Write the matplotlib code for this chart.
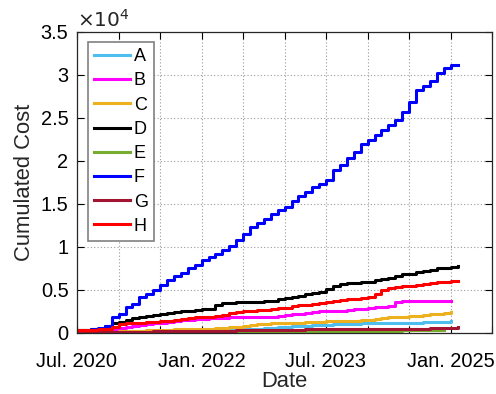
import matplotlib
matplotlib.use("Agg")
import matplotlib.pyplot as plt
from matplotlib.ticker import FuncFormatter, MultipleLocator
import pandas as pd

plt.rcParams["font.family"] = ["Liberation Sans", "DejaVu Sans"]

# Monthly cumulated cost per series (units of 1e4), first entry = Jul. 2020
series_names = ["A", "B", "C", "D", "E", "F", "G", "H"]

cost_A = [0.00, 0.00, 0.00, 0.00, 0.01, 0.01, 0.01, 0.01, 0.01, 0.01, 0.01, 0.01, 0.01,
          0.01, 0.01, 0.01, 0.02, 0.02, 0.02, 0.02, 0.02, 0.03, 0.03, 0.04, 0.04,
          0.05, 0.05, 0.06, 0.06, 0.07, 0.07, 0.08, 0.08, 0.08, 0.09, 0.09, 0.09,
          0.10, 0.10, 0.10, 0.10, 0.11, 0.11, 0.11, 0.11, 0.12, 0.12, 0.12, 0.12,
          0.12, 0.13, 0.13, 0.13, 0.13, 0.14]
cost_B = [0.02, 0.02, 0.02, 0.03, 0.04, 0.05, 0.06, 0.07, 0.08, 0.09, 0.10, 0.11, 0.12,
          0.13, 0.14, 0.15, 0.15, 0.16, 0.16, 0.17, 0.17, 0.17, 0.18, 0.18, 0.19,
          0.19, 0.19, 0.19, 0.19, 0.20, 0.21, 0.22, 0.22, 0.23, 0.24, 0.25, 0.25,
          0.26, 0.26, 0.27, 0.28, 0.28, 0.29, 0.30, 0.30, 0.31, 0.36, 0.37, 0.37,
          0.37, 0.37, 0.37, 0.37, 0.37, 0.37]
cost_C = [0.00, 0.00, 0.01, 0.01, 0.01, 0.01, 0.02, 0.02, 0.02, 0.02, 0.03, 0.03, 0.03,
          0.03, 0.04, 0.04, 0.04, 0.05, 0.05, 0.05, 0.06, 0.06, 0.07, 0.07, 0.08,
          0.09, 0.10, 0.10, 0.11, 0.11, 0.12, 0.12, 0.12, 0.13, 0.13, 0.13, 0.14,
          0.14, 0.14, 0.14, 0.14, 0.15, 0.15, 0.16, 0.17, 0.18, 0.18, 0.19, 0.20,
          0.20, 0.21, 0.22, 0.22, 0.23, 0.24]
cost_D = [0.03, 0.03, 0.04, 0.05, 0.08, 0.11, 0.13, 0.15, 0.17, 0.19, 0.20, 0.21, 0.22,
          0.23, 0.24, 0.26, 0.26, 0.27, 0.28, 0.28, 0.33, 0.35, 0.35, 0.36, 0.36,
          0.36, 0.36, 0.37, 0.37, 0.39, 0.41, 0.42, 0.43, 0.45, 0.46, 0.48, 0.51,
          0.55, 0.57, 0.58, 0.58, 0.59, 0.59, 0.62, 0.63, 0.64, 0.66, 0.68, 0.69,
          0.71, 0.72, 0.73, 0.75, 0.76, 0.77, 0.78]
cost_E = [0.00, 0.00, 0.00, 0.00, 0.00, 0.00, 0.00, 0.00, 0.00, 0.00, 0.00, 0.00, 0.00,
          0.00, 0.00, 0.00, 0.00, 0.00, 0.01, 0.01, 0.01, 0.01, 0.01, 0.01, 0.01,
          0.01, 0.01, 0.01, 0.01, 0.01, 0.01, 0.01, 0.01, 0.02, 0.02, 0.02, 0.02,
          0.02, 0.02, 0.02, 0.02, 0.02, 0.02, 0.02, 0.02, 0.02, 0.02, 0.03, 0.03,
          0.03, 0.03, 0.03, 0.03, 0.03]
cost_F = [0.03, 0.03, 0.04, 0.06, 0.08, 0.19, 0.22, 0.30, 0.34, 0.42, 0.45, 0.50, 0.56,
          0.62, 0.66, 0.70, 0.75, 0.79, 0.85, 0.88, 0.92, 0.96, 1.01, 1.08, 1.15,
          1.23, 1.28, 1.33, 1.38, 1.43, 1.47, 1.53, 1.59, 1.64, 1.70, 1.73, 1.78,
          1.90, 1.95, 2.03, 2.10, 2.20, 2.24, 2.30, 2.36, 2.42, 2.48, 2.57, 2.69,
          2.83, 2.87, 2.93, 3.02, 3.08, 3.12, 3.12]
cost_G = [0.01, 0.01, 0.01, 0.01, 0.01, 0.01, 0.01, 0.01, 0.01, 0.01, 0.01, 0.02, 0.02,
          0.02, 0.02, 0.02, 0.02, 0.02, 0.02, 0.02, 0.02, 0.02, 0.02, 0.03, 0.03,
          0.03, 0.03, 0.03, 0.03, 0.03, 0.03, 0.03, 0.03, 0.04, 0.04, 0.04, 0.04,
          0.04, 0.04, 0.04, 0.04, 0.04, 0.04, 0.05, 0.05, 0.05, 0.05, 0.05, 0.05,
          0.05, 0.05, 0.06, 0.06, 0.06, 0.06, 0.065]
cost_H = [0.03, 0.03, 0.03, 0.04, 0.05, 0.07, 0.10, 0.11, 0.12, 0.12, 0.13, 0.13, 0.14,
          0.14, 0.15, 0.16, 0.17, 0.18, 0.18, 0.19, 0.20, 0.21, 0.23, 0.24, 0.25,
          0.26, 0.27, 0.27, 0.28, 0.29, 0.29, 0.31, 0.32, 0.33, 0.34, 0.35, 0.36,
          0.37, 0.38, 0.39, 0.40, 0.41, 0.42, 0.45, 0.50, 0.52, 0.53, 0.54, 0.55,
          0.56, 0.57, 0.58, 0.59, 0.59, 0.60, 0.60]

series_costs = [cost_A, cost_B, cost_C, cost_D, cost_E, cost_F, cost_G, cost_H]
series_colors = ["#4DBEEE", "#FF00FF", "#EDB120", "#000000",
                 "#77AC30", "#0000FF", "#A2142F", "#FF0000"]

start_date = "2020-07-01"
tick_dates = pd.date_range("2020-07-01", "2025-07-01", freq="6MS")
tick_labels = ["Jul. 2020", "", "", "Jan. 2022", "", "", "Jul. 2023", "", "", "Jan. 2025", ""]

fig = plt.figure(figsize=(4.96, 3.94), dpi=100)
ax = fig.add_axes([0.155, 0.155, 0.837, 0.764])

for name, cost, color in zip(series_names, series_costs, series_colors):
    dates = pd.date_range(start_date, periods=len(cost), freq="MS")
    ax.plot(dates, [c * 1e4 for c in cost], drawstyle="steps-post",
            color=color, lw=2.2, label=name)

ax.set_xlim(pd.Timestamp("2020-07-01"), pd.Timestamp("2025-07-01"))
ax.set_ylim(0, 3.5e4)
ax.set_xticks(tick_dates)
ax.set_xticklabels(tick_labels)
ax.yaxis.set_major_locator(MultipleLocator(5000))
ax.yaxis.set_major_formatter(FuncFormatter(lambda v, p: "%g" % (v / 1e4)))

ax.tick_params(direction="in", length=5, width=0.8, labelsize=14.4,
               top=True, right=True, colors="#000000")
ax.tick_params(axis="x", pad=14)
ax.tick_params(axis="y", pad=6)
for s in ax.spines.values():
    s.set_linewidth(0.9)
    s.set_color("#262626")
ax.grid(True, linestyle=(0, (1, 2)), color="#9a9a9a", linewidth=0.8)
ax.set_axisbelow(True)

ax.set_xlabel("Date", fontsize=15.8, color="#262626", labelpad=0)
ax.set_ylabel("Cumulated Cost", fontsize=15.8, color="#262626", labelpad=4)
ax.text(0.0, 1.005, r"$\times10^{4}$", transform=ax.transAxes, fontsize=14.4,
        ha="left", va="bottom", color="#262626")

leg = ax.legend(loc="upper left", bbox_to_anchor=(0.0265, 0.967), borderaxespad=0,
                fontsize=13, frameon=True, fancybox=False, framealpha=1,
                edgecolor="#808080", handlelength=2.0, handletextpad=0.2,
                labelspacing=0.4, borderpad=0.35)
leg.get_frame().set_linewidth(1.2)

fig.savefig("out.png", dpi=100)
